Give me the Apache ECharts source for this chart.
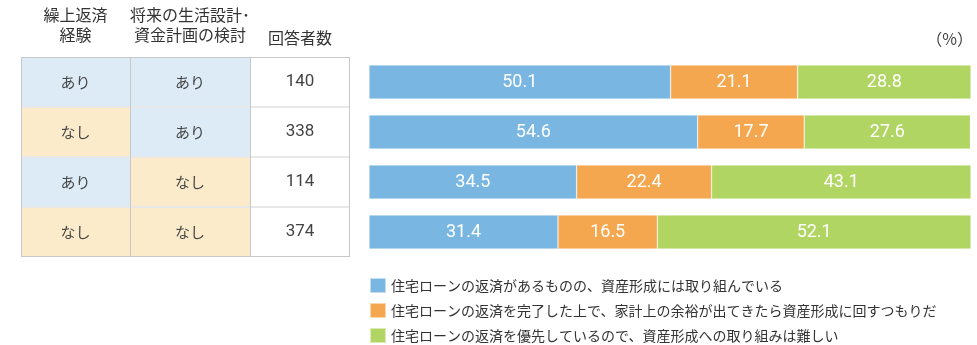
<!DOCTYPE html>
<html><head><meta charset="utf-8">
<script src="https://cdn.jsdelivr.net/npm/echarts@6/dist/echarts.min.js"></script>
<style>html,body{margin:0;padding:0;background:#fff}#c{width:977px;height:345px}</style>
</head><body><div id="c"></div>
<script>
// ---- data ----
const rowKeys = ['r1', 'r2', 'r3', 'r4'];
const headers = ['繰上返済\n経験', '将来の生活設計･\n資金計画の検討', '回答者数'];
const repayExperience = ['あり', 'なし', 'あり', 'なし'];
const planReview = ['あり', 'あり', 'なし', 'なし'];
const respondents = [140, 338, 114, 374];
const seriesNames = [
  '住宅ローンの返済があるものの、資産形成には取り組んでいる',
  '住宅ローンの返済を完了した上で、家計上の余裕が出てきたら資産形成に回すつもりだ',
  '住宅ローンの返済を優先しているので、資産形成への取り組みは難しい'
];
const investing = [50.1, 54.6, 34.5, 31.4];
const afterRepay = [21.1, 17.7, 22.4, 16.5];
const difficult = [28.8, 27.6, 43.1, 52.1];
const unitLabel = '（%）';

// ---- styles ----
const JP = "'Noto Sans CJK JP', sans-serif";
const NUM = "Roboto, 'Noto Sans CJK JP', sans-serif";
const barColors = ['#79b7e2', '#f4a74e', '#b1d563'];
const cellFill = { 'あり': '#dcebf6', 'なし': '#fcebcb' };
const gridBorder = '#c8c8c8';
const rowSep = '#e8e8e8';

const columns = [repayExperience, planReview, respondents];
const colLayout = [
  { left: 21, width: 109, margin: 12 },
  { left: 130, width: 120, margin: 12 },
  { left: 250, width: 100, margin: 9 }
];
const TOP = 57, HEIGHT = 200;

function makeRender(col) {
  const vals = columns[col];
  const lastCol = col === columns.length - 1;
  return function (params, api) {
    const i = params.dataIndex;
    const c = api.coord([0, i]);
    const sz = api.size([1, 1]);
    const x0 = c[0] - sz[0] / 2, y0 = c[1] - sz[1] / 2;
    const x1 = x0 + sz[0], y1 = y0 + sz[1];
    const v = vals[i];
    const isNum = typeof v === 'number';
    const fill = isNum ? '#ffffff' : cellFill[v];
    const px = (n) => Math.round(n) + 0.5;
    const children = [
      { type: 'rect', z2: 0, shape: { x: x0, y: y0, width: sz[0], height: sz[1] }, style: { fill: fill } }
    ];
    if (i > 0) {
      children.push({ type: 'line', z2: 1, shape: { x1: x0, y1: Math.round(y0), x2: x1, y2: Math.round(y0) }, style: { stroke: rowSep, lineWidth: 2 } });
    } else {
      children.push({ type: 'line', z2: 2, shape: { x1: x0, y1: px(y0), x2: x1, y2: px(y0) }, style: { stroke: gridBorder, lineWidth: 1 } });
    }
    if (i === vals.length - 1) {
      children.push({ type: 'line', z2: 2, shape: { x1: x0, y1: px(y1 - 1), x2: x1, y2: px(y1 - 1) }, style: { stroke: gridBorder, lineWidth: 1 } });
    }
    children.push({ type: 'line', z2: 2, shape: { x1: px(x0), y1: y0, x2: px(x0), y2: y1 }, style: { stroke: gridBorder, lineWidth: 1 } });
    if (lastCol) {
      children.push({ type: 'line', z2: 2, shape: { x1: px(x1 - 1), y1: y0, x2: px(x1 - 1), y2: y1 }, style: { stroke: gridBorder, lineWidth: 1 } });
    }
    children.push({
      type: 'text', z2: 3,
      style: {
        x: c[0], y: c[1], text: String(v),
        fill: '#444', align: 'center', verticalAlign: 'middle',
        font: isNum ? ('17px ' + NUM) : ('15px ' + JP)
      }
    });
    return { type: 'group', children: children };
  };
}

const grids = [], xAxes = [], yAxes = [], series = [];
colLayout.forEach((L, k) => {
  grids.push({ left: L.left, width: L.width, top: TOP, height: HEIGHT, containLabel: false });
  xAxes.push({
    type: 'category', gridIndex: k, position: 'top', data: [headers[k]],
    axisLine: { show: false }, axisTick: { show: false }, splitLine: { show: false },
    axisLabel: { interval: 0, margin: L.margin, color: '#333', fontSize: 16, lineHeight: 20, fontFamily: JP }
  });
  yAxes.push({ type: 'category', gridIndex: k, inverse: true, data: rowKeys, show: false });
  series.push({
    type: 'custom', xAxisIndex: k, yAxisIndex: k, silent: true,
    renderItem: makeRender(k),
    data: rowKeys.map((r, i) => [0, i])
  });
});

// bar chart grid
grids.push({ left: 369, width: 602, top: TOP, height: HEIGHT });
xAxes.push({ type: 'value', gridIndex: 3, min: 0, max: 100, show: false });
yAxes.push({ type: 'category', gridIndex: 3, inverse: true, data: rowKeys, show: false });
[investing, afterRepay, difficult].forEach((vals, k) => {
  series.push({
    type: 'bar', name: seriesNames[k], stack: 'total', xAxisIndex: 3, yAxisIndex: 3,
    barWidth: 34, data: vals,
    itemStyle: { color: barColors[k], borderColor: 'rgba(255,255,255,0.55)', borderWidth: 0.6 },
    label: {
      show: true, position: 'inside', color: '#fff', fontSize: 18, fontFamily: NUM,
      formatter: (p) => p.value.toFixed(1)
    }
  });
});

// one legend component per series, stacked vertically
const legends = seriesNames.map((n, k) => ({
  data: [n], left: 369, top: 277 + k * 25, padding: 0,
  icon: 'rect', itemWidth: 16, itemHeight: 15,
  textStyle: { fontSize: 14, color: '#333', fontFamily: JP },
  selectedMode: false
}));

const chart = echarts.init(document.getElementById('c'), null, { renderer: 'canvas' });
chart.setOption({
  animation: false,
  backgroundColor: '#fff',
  title: {
    text: unitLabel, right: 4, top: 31, padding: 0,
    textStyle: { fontSize: 16, fontWeight: 'normal', color: '#444', fontFamily: JP }
  },
  legend: legends,
  grid: grids, xAxis: xAxes, yAxis: yAxes, series: series
});
</script></body></html>
